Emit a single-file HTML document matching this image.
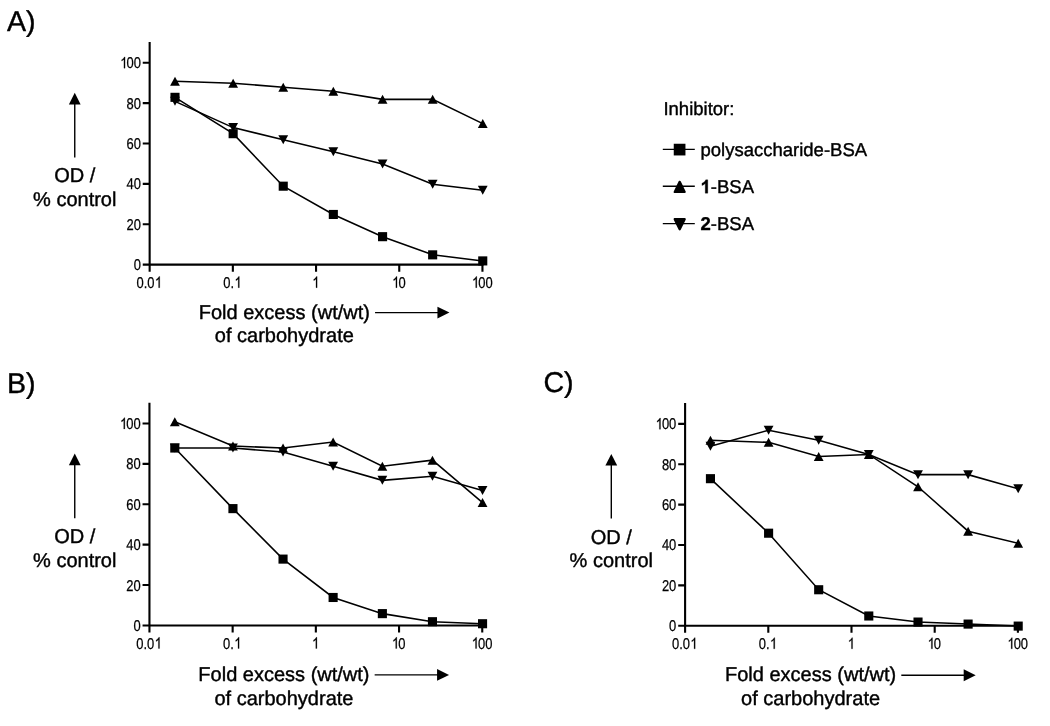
<!DOCTYPE html>
<html lang="en"><head><meta charset="utf-8"><title>Inhibition ELISA</title>
<style>
html,body{margin:0;padding:0;background:#fff;}
body{width:1050px;height:726px;overflow:hidden;}
svg{display:block;will-change:transform;}
svg text{font-family:"Liberation Sans",sans-serif;fill:#000;text-rendering:geometricPrecision;}
svg text.t{stroke:#000;stroke-width:0.4px;stroke-linejoin:round;}
</style></head><body>
<svg width="1050" height="726" viewBox="0 0 1050 726">
<rect width="1050" height="726" fill="#fff"/>
<g id="panelA"><path d="M149.65 41.95V271.65M142.75 264.65H483.45" stroke="#000" stroke-width="2.1" fill="none"/>
<path d="M142.75 224.26H149.65M142.75 183.87H149.65M142.75 143.48H149.65M142.75 103.09H149.65M142.75 62.7H149.65M232.85 264.65V271.65M316.05 264.65V271.65M399.25 264.65V271.65M482.45 264.65V271.65" stroke="#000" stroke-width="2.1" fill="none"/>
<g transform="translate(140.85 270.1) scale(0.83 1)"><text x="-8.68" y="0" font-size="15.6" stroke="#000" stroke-width="0.25">0</text></g>
<g transform="translate(140.85 229.71) scale(0.83 1)"><text x="-17.35" y="0" font-size="15.6" stroke="#000" stroke-width="0.25">20</text></g>
<g transform="translate(140.85 189.32) scale(0.83 1)"><text x="-17.35" y="0" font-size="15.6" stroke="#000" stroke-width="0.25">40</text></g>
<g transform="translate(140.85 148.93) scale(0.83 1)"><text x="-17.35" y="0" font-size="15.6" stroke="#000" stroke-width="0.25">60</text></g>
<g transform="translate(140.85 108.54) scale(0.83 1)"><text x="-17.35" y="0" font-size="15.6" stroke="#000" stroke-width="0.25">80</text></g>
<g transform="translate(140.85 68.15) scale(0.83 1)"><path transform="translate(-24.83 0) scale(0.00762 -0.00762)" d="M763 0H583V1147Q518 1085 412.5 1023Q307 961 223 930V1104Q374 1175 487 1276Q600 1377 647 1472H763Z" stroke="#000" stroke-width="32.82"/><text x="-25.33" y="0" font-size="15.6" style="fill:none">1</text><text x="-17.35" y="0" font-size="15.6" stroke="#000" stroke-width="0.25">00</text></g>
<g transform="translate(148.8 287.7) scale(0.83 1)"><text x="-14.83" y="0" font-size="15.6" stroke="#000" stroke-width="0.25">0.0</text><path transform="translate(7.36 0) scale(0.00762 -0.00762)" d="M763 0H583V1147Q518 1085 412.5 1023Q307 961 223 930V1104Q374 1175 487 1276Q600 1377 647 1472H763Z" stroke="#000" stroke-width="32.82"/><text x="6.86" y="0" font-size="15.6" style="fill:none">1</text></g>
<g transform="translate(232 287.7) scale(0.83 1)"><text x="-10.49" y="0" font-size="15.6" stroke="#000" stroke-width="0.25">0.</text><path transform="translate(3.02 0) scale(0.00762 -0.00762)" d="M763 0H583V1147Q518 1085 412.5 1023Q307 961 223 930V1104Q374 1175 487 1276Q600 1377 647 1472H763Z" stroke="#000" stroke-width="32.82"/><text x="2.52" y="0" font-size="15.6" style="fill:none">1</text></g>
<g transform="translate(315.2 287.7) scale(0.83 1)"><path transform="translate(-3.49 0) scale(0.00762 -0.00762)" d="M763 0H583V1147Q518 1085 412.5 1023Q307 961 223 930V1104Q374 1175 487 1276Q600 1377 647 1472H763Z" stroke="#000" stroke-width="32.82"/><text x="-3.99" y="0" font-size="15.6" style="fill:none">1</text></g>
<g transform="translate(398.7 287.7) scale(0.83 1)"><path transform="translate(-7.83 0) scale(0.00762 -0.00762)" d="M763 0H583V1147Q518 1085 412.5 1023Q307 961 223 930V1104Q374 1175 487 1276Q600 1377 647 1472H763Z" stroke="#000" stroke-width="32.82"/><text x="-8.33" y="0" font-size="15.6" style="fill:none">1</text><text x="-0.35" y="0" font-size="15.6" stroke="#000" stroke-width="0.25">0</text></g>
<g transform="translate(482.1 287.7) scale(0.83 1)"><path transform="translate(-12.16 0) scale(0.00762 -0.00762)" d="M763 0H583V1147Q518 1085 412.5 1023Q307 961 223 930V1104Q374 1175 487 1276Q600 1377 647 1472H763Z" stroke="#000" stroke-width="32.82"/><text x="-12.66" y="0" font-size="15.6" style="fill:none">1</text><text x="-4.69" y="0" font-size="15.6" stroke="#000" stroke-width="0.25">00</text></g>
<polyline points="175,81.18 233.15,83.19 283.24,87.23 333.33,91.27 382.57,99.35 432.66,99.35 482.75,123.58" fill="none" stroke="#000" stroke-width="1.55"/>
<path d="M170.1 85.68L179.9 85.68L175 76.68Z"/><path d="M228.25 87.69L238.05 87.69L233.15 78.69Z"/><path d="M278.34 91.73L288.14 91.73L283.24 82.73Z"/><path d="M328.43 95.77L338.23 95.77L333.33 86.77Z"/><path d="M377.67 103.85L387.47 103.85L382.57 94.85Z"/><path d="M427.76 103.85L437.56 103.85L432.66 94.85Z"/><path d="M477.85 128.08L487.65 128.08L482.75 119.08Z"/>
<polyline points="175,101.37 233.15,127.62 283.24,139.74 333.33,151.86 382.57,163.97 432.66,184.17 482.75,190.23" fill="none" stroke="#000" stroke-width="1.55"/>
<path d="M170.1 96.87L179.9 96.87L175 105.87Z"/><path d="M228.25 123.12L238.05 123.12L233.15 132.12Z"/><path d="M278.34 135.24L288.14 135.24L283.24 144.24Z"/><path d="M328.43 147.36L338.23 147.36L333.33 156.36Z"/><path d="M377.67 159.47L387.47 159.47L382.57 168.47Z"/><path d="M427.76 179.67L437.56 179.67L432.66 188.67Z"/><path d="M477.85 185.73L487.65 185.73L482.75 194.73Z"/>
<polyline points="175,97.33 233.15,133.68 283.24,186.19 333.33,214.46 382.57,236.68 432.66,254.85 482.75,260.91" fill="none" stroke="#000" stroke-width="1.55"/>
<rect x="170.45" y="92.78" width="9.1" height="9.1"/><rect x="228.6" y="129.13" width="9.1" height="9.1"/><rect x="278.69" y="181.64" width="9.1" height="9.1"/><rect x="328.78" y="209.91" width="9.1" height="9.1"/><rect x="378.02" y="232.13" width="9.1" height="9.1"/><rect x="428.11" y="250.3" width="9.1" height="9.1"/><rect x="478.2" y="256.36" width="9.1" height="9.1"/>
<path d="M74.75 157.45V102.65" stroke="#000" stroke-width="1.4"/>
<path d="M68.85 104.45L80.65 104.45L74.75 92.75Z"/>
<text x="74.75" y="182.45" class="t" text-anchor="middle" font-size="20">OD /</text>
<text x="74.75" y="205.75" class="t" text-anchor="middle" font-size="20">% control</text>
<text x="284.35" y="318.7" class="t" text-anchor="middle" font-size="20">Fold excess (wt/wt)</text>
<text x="284.35" y="342.2" class="t" text-anchor="middle" font-size="20">of carbohydrate</text>
<path d="M375.05 312.6H439.65" stroke="#000" stroke-width="1.4"/>
<path d="M437.45 306.7L437.45 318.5L449.45 312.6Z"/>
<text x="6.9" y="31.4" class="t" font-size="28.6">A)</text></g>
<g id="panelB"><path d="M149.45 402.75V632.45M142.55 625.45H483.25" stroke="#000" stroke-width="2.1" fill="none"/>
<path d="M142.55 585.06H149.45M142.55 544.67H149.45M142.55 504.28H149.45M142.55 463.89H149.45M142.55 423.5H149.45M232.65 625.45V632.45M315.85 625.45V632.45M399.05 625.45V632.45M482.25 625.45V632.45" stroke="#000" stroke-width="2.1" fill="none"/>
<g transform="translate(140.65 630.9) scale(0.83 1)"><text x="-8.68" y="0" font-size="15.6" stroke="#000" stroke-width="0.25">0</text></g>
<g transform="translate(140.65 590.51) scale(0.83 1)"><text x="-17.35" y="0" font-size="15.6" stroke="#000" stroke-width="0.25">20</text></g>
<g transform="translate(140.65 550.12) scale(0.83 1)"><text x="-17.35" y="0" font-size="15.6" stroke="#000" stroke-width="0.25">40</text></g>
<g transform="translate(140.65 509.73) scale(0.83 1)"><text x="-17.35" y="0" font-size="15.6" stroke="#000" stroke-width="0.25">60</text></g>
<g transform="translate(140.65 469.34) scale(0.83 1)"><text x="-17.35" y="0" font-size="15.6" stroke="#000" stroke-width="0.25">80</text></g>
<g transform="translate(140.65 428.95) scale(0.83 1)"><path transform="translate(-24.83 0) scale(0.00762 -0.00762)" d="M763 0H583V1147Q518 1085 412.5 1023Q307 961 223 930V1104Q374 1175 487 1276Q600 1377 647 1472H763Z" stroke="#000" stroke-width="32.82"/><text x="-25.33" y="0" font-size="15.6" style="fill:none">1</text><text x="-17.35" y="0" font-size="15.6" stroke="#000" stroke-width="0.25">00</text></g>
<g transform="translate(148.6 648.5) scale(0.83 1)"><text x="-14.83" y="0" font-size="15.6" stroke="#000" stroke-width="0.25">0.0</text><path transform="translate(7.36 0) scale(0.00762 -0.00762)" d="M763 0H583V1147Q518 1085 412.5 1023Q307 961 223 930V1104Q374 1175 487 1276Q600 1377 647 1472H763Z" stroke="#000" stroke-width="32.82"/><text x="6.86" y="0" font-size="15.6" style="fill:none">1</text></g>
<g transform="translate(231.8 648.5) scale(0.83 1)"><text x="-10.49" y="0" font-size="15.6" stroke="#000" stroke-width="0.25">0.</text><path transform="translate(3.02 0) scale(0.00762 -0.00762)" d="M763 0H583V1147Q518 1085 412.5 1023Q307 961 223 930V1104Q374 1175 487 1276Q600 1377 647 1472H763Z" stroke="#000" stroke-width="32.82"/><text x="2.52" y="0" font-size="15.6" style="fill:none">1</text></g>
<g transform="translate(315 648.5) scale(0.83 1)"><path transform="translate(-3.49 0) scale(0.00762 -0.00762)" d="M763 0H583V1147Q518 1085 412.5 1023Q307 961 223 930V1104Q374 1175 487 1276Q600 1377 647 1472H763Z" stroke="#000" stroke-width="32.82"/><text x="-3.99" y="0" font-size="15.6" style="fill:none">1</text></g>
<g transform="translate(398.5 648.5) scale(0.83 1)"><path transform="translate(-7.83 0) scale(0.00762 -0.00762)" d="M763 0H583V1147Q518 1085 412.5 1023Q307 961 223 930V1104Q374 1175 487 1276Q600 1377 647 1472H763Z" stroke="#000" stroke-width="32.82"/><text x="-8.33" y="0" font-size="15.6" style="fill:none">1</text><text x="-0.35" y="0" font-size="15.6" stroke="#000" stroke-width="0.25">0</text></g>
<g transform="translate(481.9 648.5) scale(0.83 1)"><path transform="translate(-12.16 0) scale(0.00762 -0.00762)" d="M763 0H583V1147Q518 1085 412.5 1023Q307 961 223 930V1104Q374 1175 487 1276Q600 1377 647 1472H763Z" stroke="#000" stroke-width="32.82"/><text x="-12.66" y="0" font-size="15.6" style="fill:none">1</text><text x="-4.69" y="0" font-size="15.6" stroke="#000" stroke-width="0.25">00</text></g>
<polyline points="174.8,421.78 232.95,446.01 283.04,448.03 333.13,441.98 382.37,466.21 432.46,460.15 482.55,502.56" fill="none" stroke="#000" stroke-width="1.55"/>
<path d="M169.9 426.28L179.7 426.28L174.8 417.28Z"/><path d="M228.05 450.51L237.85 450.51L232.95 441.51Z"/><path d="M278.14 452.53L287.94 452.53L283.04 443.53Z"/><path d="M328.23 446.48L338.03 446.48L333.13 437.48Z"/><path d="M377.47 470.71L387.27 470.71L382.37 461.71Z"/><path d="M427.56 464.65L437.36 464.65L432.46 455.65Z"/><path d="M477.65 507.06L487.45 507.06L482.55 498.06Z"/>
<polyline points="174.8,448.03 232.95,448.03 283.04,452.07 333.13,466.21 382.37,480.35 432.46,476.31 482.55,490.44" fill="none" stroke="#000" stroke-width="1.55"/>
<path d="M169.9 443.53L179.7 443.53L174.8 452.53Z"/><path d="M228.05 443.53L237.85 443.53L232.95 452.53Z"/><path d="M278.14 447.57L287.94 447.57L283.04 456.57Z"/><path d="M328.23 461.71L338.03 461.71L333.13 470.71Z"/><path d="M377.47 475.85L387.27 475.85L382.37 484.85Z"/><path d="M427.56 471.81L437.36 471.81L432.46 480.81Z"/><path d="M477.65 485.94L487.45 485.94L482.55 494.94Z"/>
<polyline points="174.8,448.03 232.95,508.62 283.04,559.11 333.13,597.48 382.37,613.63 432.46,621.71 482.55,623.73" fill="none" stroke="#000" stroke-width="1.55"/>
<rect x="170.25" y="443.48" width="9.1" height="9.1"/><rect x="228.4" y="504.07" width="9.1" height="9.1"/><rect x="278.49" y="554.56" width="9.1" height="9.1"/><rect x="328.58" y="592.93" width="9.1" height="9.1"/><rect x="377.82" y="609.08" width="9.1" height="9.1"/><rect x="427.91" y="617.16" width="9.1" height="9.1"/><rect x="478" y="619.18" width="9.1" height="9.1"/>
<path d="M74.75 518.25V463.45" stroke="#000" stroke-width="1.4"/>
<path d="M68.85 465.25L80.65 465.25L74.75 453.55Z"/>
<text x="74.75" y="543.25" class="t" text-anchor="middle" font-size="20">OD /</text>
<text x="74.75" y="566.55" class="t" text-anchor="middle" font-size="20">% control</text>
<text x="283.95" y="681" class="t" text-anchor="middle" font-size="20">Fold excess (wt/wt)</text>
<text x="283.95" y="704.5" class="t" text-anchor="middle" font-size="20">of carbohydrate</text>
<path d="M374.65 674.9H439.25" stroke="#000" stroke-width="1.4"/>
<path d="M437.05 669L437.05 680.8L449.05 674.9Z"/>
<text x="6.9" y="392.5" class="t" font-size="28.6">B)</text></g>
<g id="panelC"><path d="M685.1 403.1V632.8M678.2 625.8H1018.9" stroke="#000" stroke-width="2.1" fill="none"/>
<path d="M678.2 585.41H685.1M678.2 545.02H685.1M678.2 504.63H685.1M678.2 464.24H685.1M678.2 423.85H685.1M768.3 625.8V632.8M851.5 625.8V632.8M934.7 625.8V632.8M1017.9 625.8V632.8" stroke="#000" stroke-width="2.1" fill="none"/>
<g transform="translate(676.3 631.25) scale(0.83 1)"><text x="-8.68" y="0" font-size="15.6" stroke="#000" stroke-width="0.25">0</text></g>
<g transform="translate(676.3 590.86) scale(0.83 1)"><text x="-17.35" y="0" font-size="15.6" stroke="#000" stroke-width="0.25">20</text></g>
<g transform="translate(676.3 550.47) scale(0.83 1)"><text x="-17.35" y="0" font-size="15.6" stroke="#000" stroke-width="0.25">40</text></g>
<g transform="translate(676.3 510.08) scale(0.83 1)"><text x="-17.35" y="0" font-size="15.6" stroke="#000" stroke-width="0.25">60</text></g>
<g transform="translate(676.3 469.69) scale(0.83 1)"><text x="-17.35" y="0" font-size="15.6" stroke="#000" stroke-width="0.25">80</text></g>
<g transform="translate(676.3 429.3) scale(0.83 1)"><path transform="translate(-24.83 0) scale(0.00762 -0.00762)" d="M763 0H583V1147Q518 1085 412.5 1023Q307 961 223 930V1104Q374 1175 487 1276Q600 1377 647 1472H763Z" stroke="#000" stroke-width="32.82"/><text x="-25.33" y="0" font-size="15.6" style="fill:none">1</text><text x="-17.35" y="0" font-size="15.6" stroke="#000" stroke-width="0.25">00</text></g>
<g transform="translate(684.25 648.85) scale(0.83 1)"><text x="-14.83" y="0" font-size="15.6" stroke="#000" stroke-width="0.25">0.0</text><path transform="translate(7.36 0) scale(0.00762 -0.00762)" d="M763 0H583V1147Q518 1085 412.5 1023Q307 961 223 930V1104Q374 1175 487 1276Q600 1377 647 1472H763Z" stroke="#000" stroke-width="32.82"/><text x="6.86" y="0" font-size="15.6" style="fill:none">1</text></g>
<g transform="translate(767.45 648.85) scale(0.83 1)"><text x="-10.49" y="0" font-size="15.6" stroke="#000" stroke-width="0.25">0.</text><path transform="translate(3.02 0) scale(0.00762 -0.00762)" d="M763 0H583V1147Q518 1085 412.5 1023Q307 961 223 930V1104Q374 1175 487 1276Q600 1377 647 1472H763Z" stroke="#000" stroke-width="32.82"/><text x="2.52" y="0" font-size="15.6" style="fill:none">1</text></g>
<g transform="translate(850.65 648.85) scale(0.83 1)"><path transform="translate(-3.49 0) scale(0.00762 -0.00762)" d="M763 0H583V1147Q518 1085 412.5 1023Q307 961 223 930V1104Q374 1175 487 1276Q600 1377 647 1472H763Z" stroke="#000" stroke-width="32.82"/><text x="-3.99" y="0" font-size="15.6" style="fill:none">1</text></g>
<g transform="translate(934.15 648.85) scale(0.83 1)"><path transform="translate(-7.83 0) scale(0.00762 -0.00762)" d="M763 0H583V1147Q518 1085 412.5 1023Q307 961 223 930V1104Q374 1175 487 1276Q600 1377 647 1472H763Z" stroke="#000" stroke-width="32.82"/><text x="-8.33" y="0" font-size="15.6" style="fill:none">1</text><text x="-0.35" y="0" font-size="15.6" stroke="#000" stroke-width="0.25">0</text></g>
<g transform="translate(1017.55 648.85) scale(0.83 1)"><path transform="translate(-12.16 0) scale(0.00762 -0.00762)" d="M763 0H583V1147Q518 1085 412.5 1023Q307 961 223 930V1104Q374 1175 487 1276Q600 1377 647 1472H763Z" stroke="#000" stroke-width="32.82"/><text x="-12.66" y="0" font-size="15.6" style="fill:none">1</text><text x="-4.69" y="0" font-size="15.6" stroke="#000" stroke-width="0.25">00</text></g>
<polyline points="710.45,440.31 768.6,442.33 818.69,456.46 868.78,454.44 918.02,486.75 968.11,531.18 1018.2,543.3" fill="none" stroke="#000" stroke-width="1.55"/>
<path d="M705.55 444.81L715.35 444.81L710.45 435.81Z"/><path d="M763.7 446.83L773.5 446.83L768.6 437.83Z"/><path d="M813.79 460.96L823.59 460.96L818.69 451.96Z"/><path d="M863.88 458.94L873.68 458.94L868.78 449.94Z"/><path d="M913.12 491.25L922.92 491.25L918.02 482.25Z"/><path d="M963.21 535.68L973.01 535.68L968.11 526.68Z"/><path d="M1013.3 547.8L1023.1 547.8L1018.2 538.8Z"/>
<polyline points="710.45,446.36 768.6,430.21 818.69,440.31 868.78,454.44 918.02,474.64 968.11,474.64 1018.2,488.77" fill="none" stroke="#000" stroke-width="1.55"/>
<path d="M705.55 441.86L715.35 441.86L710.45 450.86Z"/><path d="M763.7 425.71L773.5 425.71L768.6 434.71Z"/><path d="M813.79 435.81L823.59 435.81L818.69 444.81Z"/><path d="M863.88 449.94L873.68 449.94L868.78 458.94Z"/><path d="M913.12 470.14L922.92 470.14L918.02 479.14Z"/><path d="M963.21 470.14L973.01 470.14L968.11 479.14Z"/><path d="M1013.3 484.27L1023.1 484.27L1018.2 493.27Z"/>
<polyline points="710.45,478.68 768.6,533.2 818.69,589.75 868.78,616 918.02,622.06 968.11,624.08 1018.2,626.1" fill="none" stroke="#000" stroke-width="1.55"/>
<rect x="705.9" y="474.13" width="9.1" height="9.1"/><rect x="764.05" y="528.65" width="9.1" height="9.1"/><rect x="814.14" y="585.2" width="9.1" height="9.1"/><rect x="864.23" y="611.45" width="9.1" height="9.1"/><rect x="913.47" y="617.51" width="9.1" height="9.1"/><rect x="963.56" y="619.53" width="9.1" height="9.1"/><rect x="1013.65" y="621.55" width="9.1" height="9.1"/>
<path d="M611.3 518.6V463.8" stroke="#000" stroke-width="1.4"/>
<path d="M605.4 465.6L617.2 465.6L611.3 453.9Z"/>
<text x="611.3" y="543.6" class="t" text-anchor="middle" font-size="20">OD /</text>
<text x="611.3" y="566.9" class="t" text-anchor="middle" font-size="20">% control</text>
<text x="810.6" y="681.35" class="t" text-anchor="middle" font-size="20">Fold excess (wt/wt)</text>
<text x="810.6" y="704.85" class="t" text-anchor="middle" font-size="20">of carbohydrate</text>
<path d="M901.3 675.25H965.9" stroke="#000" stroke-width="1.4"/>
<path d="M963.7 669.35L963.7 681.15L975.7 675.25Z"/>
<text x="543.4" y="392.1" class="t" font-size="28.6">C)</text></g>
<g id="legend"><text x="663.45" y="115.35" class="t" font-size="18.5">Inhibitor:</text>
<path d="M662.8 149.35H694.8" stroke="#000" stroke-width="1.4"/>
<rect x="673.75" y="143.75" width="11.7" height="11.7"/>
<text x="700.5" y="156.2" class="t" font-size="18.5">polysaccharide-BSA</text>
<path d="M662.8 186.3H694.8" stroke="#000" stroke-width="1.4"/>
<g stroke="#000" stroke-width="2.3" stroke-linejoin="round"><path d="M674.75 191.95L684.65 191.95L679.7 181.85Z"/></g>
<path transform="translate(700.5 193.15) scale(0.00903 -0.00903)" d="M806 0H525V1059Q371 915 162 846V1101Q272 1137 401 1237.5Q530 1338 578 1472H806Z" stroke="#000" stroke-width="33.21"/>
<text x="700.5" y="193.15" class="t" font-size="18.5"><tspan font-weight="bold" style="fill:none;stroke:none">1</tspan>-BSA</text>
<path d="M662.8 223.6H694.8" stroke="#000" stroke-width="1.4"/>
<g stroke="#000" stroke-width="2.3" stroke-linejoin="round"><path d="M674.75 219.15L684.65 219.15L679.7 229.25Z"/></g>
<text x="700.5" y="230.45" class="t" font-size="18.5"><tspan font-weight="bold">2</tspan>-BSA</text></g>
</svg>
</body></html>
